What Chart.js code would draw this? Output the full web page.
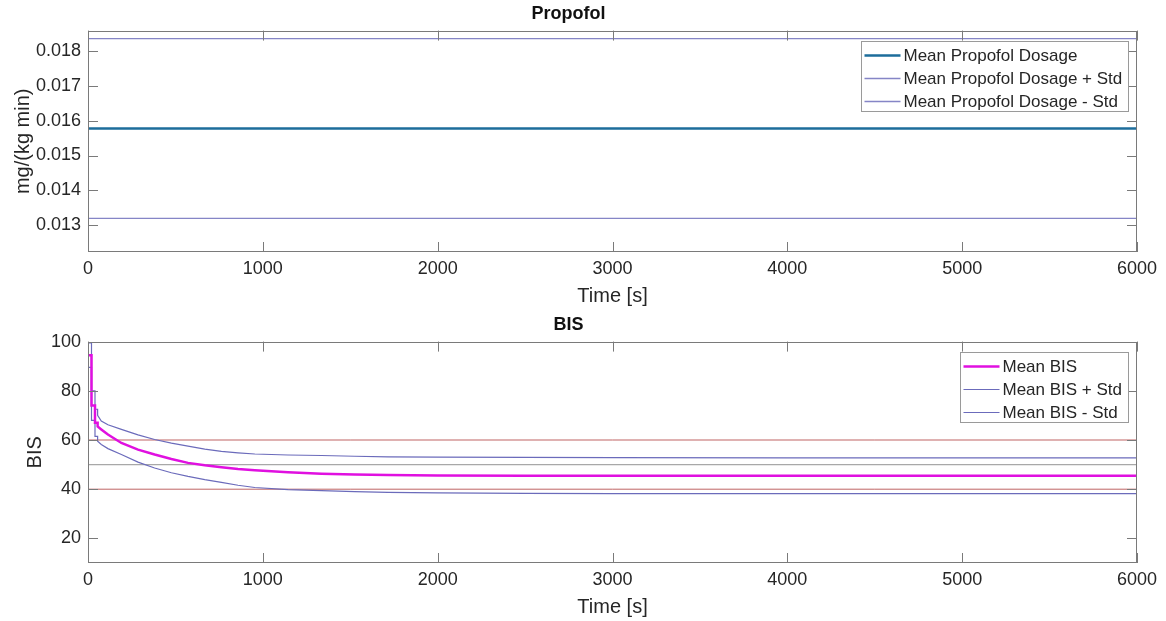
<!DOCTYPE html>
<html>
<head>
<meta charset="utf-8">
<script src="https://cdn.jsdelivr.net/npm/chart.js@4.4.1/dist/chart.umd.min.js"></script>
<style>
  html, body { margin: 0; padding: 0; background: #fff; }
  #wrap { position: relative; width: 1166px; height: 621px; }
  canvas { position: absolute; left: 0; }
  #propofolChart { top: 0; }
  #bisChart { top: 311px; }
</style>
</head>
<body>
<div id="wrap">
  <canvas id="propofolChart" width="1166" height="310"></canvas>
  <canvas id="bisChart" width="1166" height="310"></canvas>
</div>
<script>
// time axis
const timeTicks = [0, 1000, 2000, 3000, 4000, 5000, 6000];

// Propofol (constant dosage over the whole run)
const propofolTime = [0, 6000];
const propofolMean = [0.01578, 0.01578];
const propofolUpper = [0.01837, 0.01837];
const propofolLower = [0.01319, 0.01319];
const propofolTicks = [0.013, 0.014, 0.015, 0.016, 0.017, 0.018];

// BIS (staircase at the start, then a slow decay)
const bisTime = [0, 20, 20, 40, 40, 55, 55, 76, 114, 191, 286, 381, 477, 572, 668, 763, 858,
  954, 1144, 1335, 1525, 1716, 2000, 2500, 3000, 4000, 5000, 6000];
const bisMean = [94.5, 94.5, 74, 74, 67, 67, 65.5, 64.3, 62.2, 58.8, 56.1, 54.1, 52.3, 50.7, 49.7, 48.9, 48.2,
  47.7, 46.9, 46.3, 46.0, 45.8, 45.6, 45.5, 45.5, 45.5, 45.5, 45.5];
const bisUpper = [99.5, 99.5, 80, 80, 72.5, 72.5, 70, 67.7, 66.2, 64.3, 62.1, 60.2, 58.7, 57.5, 56.3, 55.4, 54.8,
  54.3, 53.9, 53.7, 53.4, 53.1, 53.0, 52.9, 52.8, 52.7, 52.7, 52.7];
const bisLower = [89.5, 89.5, 68, 68, 61.5, 61.5, 59.5, 58.2, 56.5, 54.1, 51.0, 48.6, 46.7, 45.2, 43.9, 42.8, 41.6,
  40.7, 39.8, 39.4, 39.0, 38.7, 38.5, 38.3, 38.2, 38.2, 38.2, 38.2];
const bisTicks = [20, 40, 60, 80, 100];

// reference levels
const refTime = [0, 6000];
const bisHigh = [60, 60];
const bisTarget = [50, 50];
const bisLow = [40, 40];

const FONT = '"Liberation Sans", Arial, Helvetica, sans-serif';
const TEXT = '#262626';
Chart.defaults.font.family = FONT;
Chart.defaults.color = TEXT;

const toXY = (xs, ys) => xs.map((x, i) => ({ x: x, y: ys[i] }));

// frame with inward ticks on all four sides
const matlabAxes = {
  id: 'matlabAxes',
  afterDatasetsDraw(chart) {
    const { ctx, chartArea: a, scales: { x, y } } = chart;
    const len = 10;
    ctx.save();
    ctx.strokeStyle = '#7a7a7a';
    ctx.lineWidth = 1;
    ctx.strokeRect(Math.round(a.left) + 0.5, Math.round(a.top) + 0.5,
      Math.round(a.width) - 1, Math.round(a.height) - 1);
    ctx.beginPath();
    x.ticks.forEach(t => {
      const px = Math.round(x.getPixelForValue(t.value)) + 0.5;
      ctx.moveTo(px, a.bottom); ctx.lineTo(px, a.bottom - len);
      ctx.moveTo(px, a.top); ctx.lineTo(px, a.top + len);
    });
    y.ticks.forEach(t => {
      const py = Math.round(y.getPixelForValue(t.value)) + 0.5;
      ctx.moveTo(a.left, py); ctx.lineTo(a.left + len, py);
      ctx.moveTo(a.right, py); ctx.lineTo(a.right - len, py);
    });
    ctx.stroke();
    ctx.restore();
  }
};

// boxed legend in the upper right corner of the plot
const boxLegend = {
  id: 'boxLegend',
  afterDraw(chart) {
    const { ctx, chartArea: a } = chart;
    const items = chart.data.datasets.filter(d => d.inLegend !== false);
    ctx.save();
    ctx.font = '17px ' + FONT;
    const textW = Math.max(...items.map(d => ctx.measureText(d.label).width));
    const w = Math.round(42 + textW + 6);
    const h = 70;
    const bx = Math.round(a.right - 9 - w) + 0.5;
    const by = Math.round(a.top + 10) + 0.5;
    ctx.fillStyle = '#fff';
    ctx.fillRect(bx, by, w, h);
    ctx.strokeStyle = '#9a9a9a';
    ctx.lineWidth = 1;
    ctx.strokeRect(bx, by, w, h);
    ctx.textBaseline = 'middle';
    items.forEach((d, i) => {
      const cy = by + 14 + i * 23;
      ctx.strokeStyle = d.borderColor;
      ctx.lineWidth = d.borderWidth;
      ctx.beginPath();
      ctx.moveTo(bx + 3, cy); ctx.lineTo(bx + 39, cy);
      ctx.stroke();
      ctx.fillStyle = TEXT;
      ctx.fillText(d.label, bx + 42, cy + 1);
    });
    ctx.restore();
  }
};

function lineSet(label, xs, ys, color, width, inLegend) {
  return {
    label: label,
    data: toXY(xs, ys),
    borderColor: color,
    borderWidth: width,
    pointRadius: 0,
    tension: 0,
    fill: false,
    inLegend: inLegend
  };
}

function makeOptions(title, yMin, yMax, yTicks, yLabel, yTitlePad, fmt) {
  return {
    responsive: false,
    animation: false,
    layout: { padding: { left: 0, right: 29, top: 0, bottom: 0 } },
    plugins: {
      legend: { display: false },
      tooltip: { enabled: false },
      title: {
        display: true,
        text: title,
        font: { size: 18, weight: 'bold' },
        color: '#111',
        padding: { top: 3, bottom: 6 }
      }
    },
    scales: {
      x: {
        type: 'linear',
        min: 0,
        max: 6000,
        grid: { display: false, drawTicks: false },
        border: { display: false },
        afterBuildTicks: s => { s.ticks = timeTicks.map(v => ({ value: v })); },
        afterFit: s => { s.height = 58; },
        ticks: { font: { size: 18 }, padding: 6, maxRotation: 0, callback: v => String(v) },
        title: { display: true, text: 'Time [s]', font: { size: 20 }, padding: { top: 0, bottom: 2 } }
      },
      y: {
        min: yMin,
        max: yMax,
        grid: { display: false, drawTicks: false },
        border: { display: false },
        afterBuildTicks: s => { s.ticks = yTicks.map(v => ({ value: v })); },
        afterFit: s => { s.width = 88; },
        ticks: { font: { size: 18 }, padding: 7, callback: fmt },
        title: { display: true, text: yLabel, font: { size: 20 }, padding: { top: yTitlePad, bottom: 0 } }
      }
    }
  };
}

document.addEventListener('DOMContentLoaded', () => {
  new Chart(document.getElementById('propofolChart').getContext('2d'), {
    type: 'line',
    data: {
      datasets: [
        lineSet('Mean Propofol Dosage', propofolTime, propofolMean, '#1d6d9b', 2.5, true),
        lineSet('Mean Propofol Dosage + Std', propofolTime, propofolUpper, '#8585c6', 1.3, true),
        lineSet('Mean Propofol Dosage - Std', propofolTime, propofolLower, '#8585c6', 1.3, true)
      ]
    },
    options: makeOptions('Propofol', 0.01222, 0.0186, propofolTicks, 'mg/(kg min)', 11.5, v => v.toFixed(3)),
    plugins: [matlabAxes, boxLegend]
  });

  new Chart(document.getElementById('bisChart').getContext('2d'), {
    type: 'line',
    data: {
      datasets: [
        lineSet('Mean BIS', bisTime, bisMean, '#e010e0', 2.5, true),
        lineSet('Mean BIS + Std', bisTime, bisUpper, '#6b6bbb', 1.2, true),
        lineSet('Mean BIS - Std', bisTime, bisLower, '#6b6bbb', 1.2, true),
        lineSet('High limit', refTime, bisHigh, 'rgba(175,60,60,0.8)', 1, false),
        lineSet('Target', refTime, bisTarget, '#a8a8a8', 1.2, false),
        lineSet('Low limit', refTime, bisLow, 'rgba(175,60,60,0.8)', 1, false)
      ]
    },
    options: makeOptions('BIS', 10, 100, bisTicks, 'BIS', 23, v => String(v)),
    plugins: [matlabAxes, boxLegend]
  });
});
</script>
</body>
</html>
